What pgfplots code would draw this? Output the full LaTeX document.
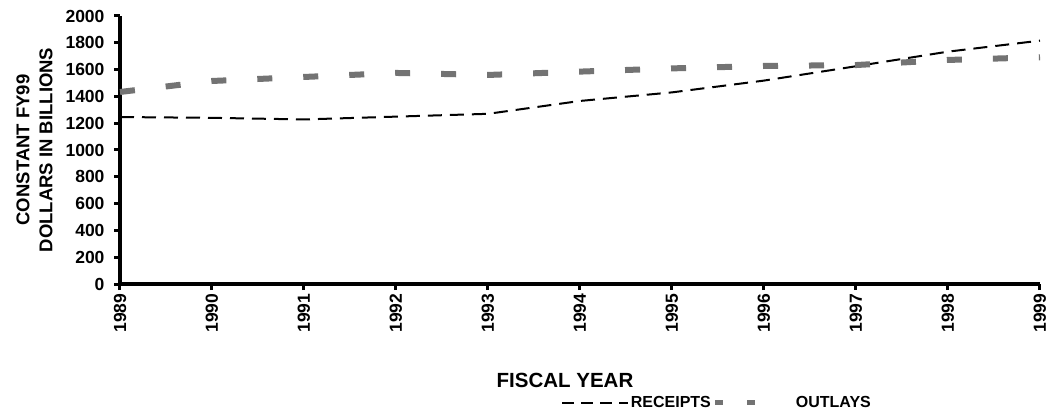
\documentclass[border=0pt]{standalone}
\usepackage{pgfplots}
\pgfplotsset{compat=1.18}
\usepackage{fontspec}
\setmainfont{Liberation Sans}

\pgfplotstableread{
year receipts outlays
1989 1246 1433
1990 1240 1515
1991 1228 1545
1992 1249 1575
1993 1270 1560
1994 1366 1585
1995 1430 1609
1996 1518 1627
1997 1625 1634
1998 1734 1672
1999 1816 1692
}\budget

\pgfplotsset{
  receipts line/.style={black, line width=2pt, dash pattern=on 14pt off 8pt,
    legend image code/.code={\draw[black, line width=1.6pt, dash pattern=on 12pt off 7pt] (0pt,0pt) -- (66pt,0pt);}},
  outlays line/.style={black!55, line width=6pt, dash pattern=on 15pt off 31pt,
    legend image code/.code={\draw[black!55, line width=5pt, dash pattern=on 8pt off 24pt] (0pt,0pt) -- (40pt,0pt);}},
}

\begin{document}
\begin{tikzpicture}
\path[use as bounding box] (-120pt,-130pt) rectangle (928pt,284pt);
\begin{axis}[
    at={(0pt,0pt)}, anchor=south west,
    scale only axis,
    width=920pt, height=268pt,
    xmin=1989, xmax=1999,
    ymin=0, ymax=2000,
    xtick={1989,...,1999},
    ytick={0,200,...,2000},
    axis lines*=left,
    axis line style={line width=3.5pt},
    tick align=outside,
    major tick length=6pt,
    tick style={line width=3pt, black},
    /pgf/number format/1000 sep={},
    /pgf/number format/assume math mode=true,
    ticklabel style={font=\bfseries\fontsize{17.5}{20}\selectfont},
    x tick label style={rotate=90, anchor=east},
    y tick label style={xshift=-6pt},
    ylabel={CONSTANT FY99\\DOLLARS IN BILLIONS},
    ylabel style={align=center, font=\bfseries\fontsize{18.5}{23}\selectfont, yshift=6pt},
    clip=false,
    legend columns=2,
    legend style={draw=none, fill=none,
        font=\bfseries\fontsize{16}{18}\selectfont,
        at={(0.649,-0.444)}, anchor=center,
        /tikz/every odd column/.append style={column sep=0pt},
        /tikz/every even column/.append style={column sep=0pt}},
]
\addplot[receipts line] table[x=year, y=receipts] {\budget};
\addlegendentry{RECEIPTS}
\addplot[outlays line] table[x=year, y=outlays] {\budget};
\addlegendentry{\hspace{36pt}OUTLAYS}
\end{axis}
\node[font=\bfseries\fontsize{20.5}{23}\selectfont] at (445pt,-96pt) {FISCAL YEAR};
\end{tikzpicture}
\end{document}
